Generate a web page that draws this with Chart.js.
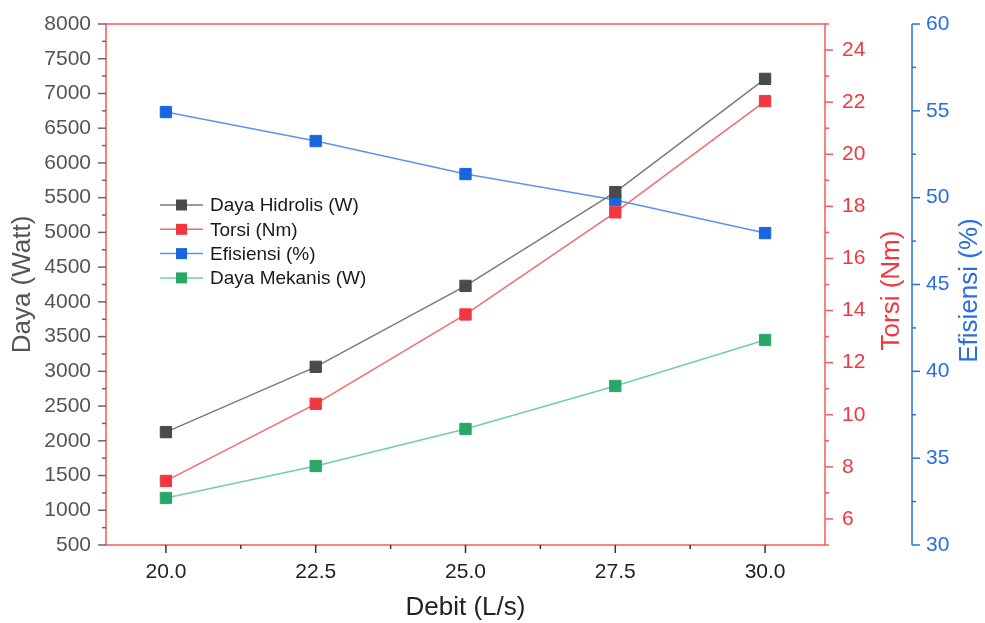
<!DOCTYPE html>
<html><head><meta charset="utf-8">
<script src="https://cdn.jsdelivr.net/npm/chart.js@4.4.0/dist/chart.umd.min.js"></script>
<style>html,body{margin:0;padding:0;background:#fff}#wrap{width:985px;height:623px;position:relative}</style>
</head><body><div id="wrap"><canvas id="c" width="985" height="623"></canvas></div>
<script>
// ---- data ----
const debit = [20.0, 22.5, 25.0, 27.5, 30.0];
const dayaHidrolis = [2125, 3065, 4230, 5580, 7210];
const torsi = [7.46, 10.42, 13.85, 17.77, 22.04];
const efisiensi = [54.93, 53.26, 51.36, 49.86, 47.96];
const dayaMekanis = [1177, 1637, 2170, 2789, 3451];
const xTicks = [20.0, 22.5, 25.0, 27.5, 30.0];
const dayaTicks = [500, 1000, 1500, 2000, 2500, 3000, 3500, 4000, 4500, 5000, 5500, 6000, 6500, 7000, 7500, 8000];
const torsiTicks = [6, 8, 10, 12, 14, 16, 18, 20, 22, 24];
const effTicks = [30, 35, 40, 45, 50, 55, 60];

const FONT = "'Liberation Sans', Arial, Helvetica, sans-serif";
const C_GRAY = '#555555', C_X = '#222222', C_RED = '#f2383e', C_BLUE = '#2a6ee2';

function minorOf(major, min, max) {
  const out = [];
  const step = major[1] - major[0];
  const cand = [major[0] - step / 2];
  for (let i = 0; i < major.length - 1; i++) cand.push((major[i] + major[i + 1]) / 2);
  cand.push(major[major.length - 1] + step / 2);
  cand.forEach(v => { if (v >= min - 1e-9 && v <= max + 1e-9) out.push(v); });
  return out;
}

const decor = {
  id: 'decor',
  afterDraw(chart) {
    const ctx = chart.ctx;
    const a = chart.chartArea;
    const s = chart.scales;
    ctx.save();
    // frame
    ctx.strokeStyle = '#f55a5a';
    ctx.lineWidth = 1.5;
    ctx.strokeRect(a.left, a.top, a.right - a.left, a.bottom - a.top);

    function vTicks(scale, x, major, len, color) {
      ctx.strokeStyle = color; ctx.lineWidth = 1.5;
      const minor = minorOf(major, scale.min, scale.max);
      major.forEach(v => { const y = scale.getPixelForValue(v); ctx.beginPath(); ctx.moveTo(x, y); ctx.lineTo(x + len, y); ctx.stroke(); });
      minor.forEach(v => { const y = scale.getPixelForValue(v); ctx.beginPath(); ctx.moveTo(x, y); ctx.lineTo(x + len / 2, y); ctx.stroke(); });
    }
    // left axis
    vTicks(s.yDaya, a.left, dayaTicks, -8, '#666666');
    // torsi axis
    vTicks(s.yTorsi, a.right, torsiTicks, 8, '#f55a5a');
    // efisiensi axis
    const ex = s.yEff.left + 1;
    ctx.strokeStyle = C_BLUE; ctx.lineWidth = 1.5;
    ctx.beginPath(); ctx.moveTo(ex, a.top); ctx.lineTo(ex, a.bottom); ctx.stroke();
    vTicks(s.yEff, ex, effTicks, 8, C_BLUE);
    // x axis ticks
    ctx.strokeStyle = '#333333'; ctx.lineWidth = 1.5;
    const xm = minorOf(xTicks, s.x.min, s.x.max);
    xTicks.forEach(v => { const x = s.x.getPixelForValue(v); ctx.beginPath(); ctx.moveTo(x, a.bottom); ctx.lineTo(x, a.bottom + 8); ctx.stroke(); });
    xm.forEach(v => { const x = s.x.getPixelForValue(v); ctx.beginPath(); ctx.moveTo(x, a.bottom); ctx.lineTo(x, a.bottom + 4); ctx.stroke(); });

    // right titles (rotated bottom-to-top)
    const cy = (a.top + a.bottom) / 2 + 6;
    ctx.font = '26px ' + FONT;
    ctx.textAlign = 'center'; ctx.textBaseline = 'middle';
    [[s.yTorsi, 892, C_RED], [s.yEff, 970, C_BLUE]].forEach(([sc, x, col]) => {
      ctx.save(); ctx.translate(x, cy); ctx.rotate(-Math.PI / 2);
      ctx.fillStyle = col; ctx.fillText(sc.options.title.text, 0, 0); ctx.restore();
    });

    // legend
    const lx = 160, ly0 = 205, dy = 24.3;
    ctx.font = '19px ' + FONT;
    ctx.textAlign = 'left'; ctx.textBaseline = 'middle';
    chart.data.datasets.forEach((ds, i) => {
      const y = ly0 + i * dy;
      ctx.strokeStyle = ds.borderColor; ctx.lineWidth = 1.5;
      ctx.beginPath(); ctx.moveTo(lx, y); ctx.lineTo(lx + 43, y); ctx.stroke();
      ctx.fillStyle = ds.pointBackgroundColor;
      ctx.fillRect(lx + 21.5 - 5.5, y - 5.5, 11, 11);
      ctx.fillStyle = '#1a1a1a';
      ctx.fillText(ds.label, lx + 50, y + 1);
    });
    ctx.restore();
  }
};

function mk(label, data, axis, line, pt) {
  return {
    label, data: debit.map((x, i) => ({ x, y: data[i] })), yAxisID: axis,
    borderColor: line, borderWidth: 1.5, backgroundColor: pt,
    pointStyle: 'rect', pointRadius: 8, pointBorderWidth: 1,
    pointBackgroundColor: pt, pointBorderColor: pt, tension: 0
  };
}

function fitV(w) {
  return sc => { sc.width = w; sc.paddingTop = 0; sc.paddingBottom = 0; };
}

new Chart(document.getElementById('c'), {
  type: 'line',
  data: {
    datasets: [
      mk('Daya Hidrolis (W)', dayaHidrolis, 'yDaya', '#7a7a7a', '#4a4a4a'),
      mk('Torsi (Nm)', torsi, 'yTorsi', '#f76a6a', '#f2383e'),
      mk('Efisiensi (%)', efisiensi, 'yEff', '#5c93ee', '#1866df'),
      mk('Daya Mekanis (W)', dayaMekanis, 'yDaya', '#72cf9e', '#28a866')
    ]
  },
  options: {
    responsive: false, animation: false, devicePixelRatio: 1,
    layout: { padding: { top: 24, left: 0, right: 0, bottom: 0 } },
    plugins: { legend: { display: false }, tooltip: { enabled: false } },
    scales: {
      x: {
        type: 'linear', position: 'bottom', min: 19, max: 31,
        afterBuildTicks: sc => { sc.ticks = xTicks.map(v => ({ value: v })); },
        afterFit: sc => { sc.height = 78; sc.paddingLeft = 0; sc.paddingRight = 0; },
        grid: { display: false, drawTicks: false }, border: { display: false },
        ticks: { color: C_X, font: { family: FONT, size: 21 }, padding: 15, callback: v => Number(v).toFixed(1), maxRotation: 0, autoSkip: false },
        title: { display: true, text: 'Debit (L/s)', color: C_X, font: { family: FONT, size: 26 }, padding: { top: 0, bottom: 0 } }
      },
      yDaya: {
        type: 'linear', position: 'left', min: 500, max: 8000,
        afterBuildTicks: sc => { sc.ticks = dayaTicks.map(v => ({ value: v })); },
        afterFit: fitV(106),
        grid: { display: false, drawTicks: false }, border: { display: false },
        ticks: { color: C_GRAY, font: { family: FONT, size: 21 }, padding: 15, callback: v => String(v), autoSkip: false },
        title: { display: true, text: 'Daya (Watt)', color: C_GRAY, font: { family: FONT, size: 26 }, padding: { top: 7, bottom: 0 } }
      },
      yTorsi: {
        type: 'linear', position: 'right', min: 5, max: 25,
        afterBuildTicks: sc => { sc.ticks = torsiTicks.map(v => ({ value: v })); },
        afterFit: fitV(86),
        grid: { display: false, drawTicks: false }, border: { display: false },
        ticks: { color: C_RED, font: { family: FONT, size: 21 }, padding: 17, callback: v => String(v), autoSkip: false },
        title: { display: false, text: 'Torsi (Nm)' }
      },
      yEff: {
        type: 'linear', position: 'right', min: 30, max: 60,
        afterBuildTicks: sc => { sc.ticks = effTicks.map(v => ({ value: v })); },
        afterFit: fitV(74),
        grid: { display: false, drawTicks: false }, border: { display: false },
        ticks: { color: C_BLUE, font: { family: FONT, size: 21 }, padding: 15, callback: v => String(v), autoSkip: false },
        title: { display: false, text: 'Efisiensi (%)' }
      }
    }
  },
  plugins: [decor]
});
</script></body></html>
